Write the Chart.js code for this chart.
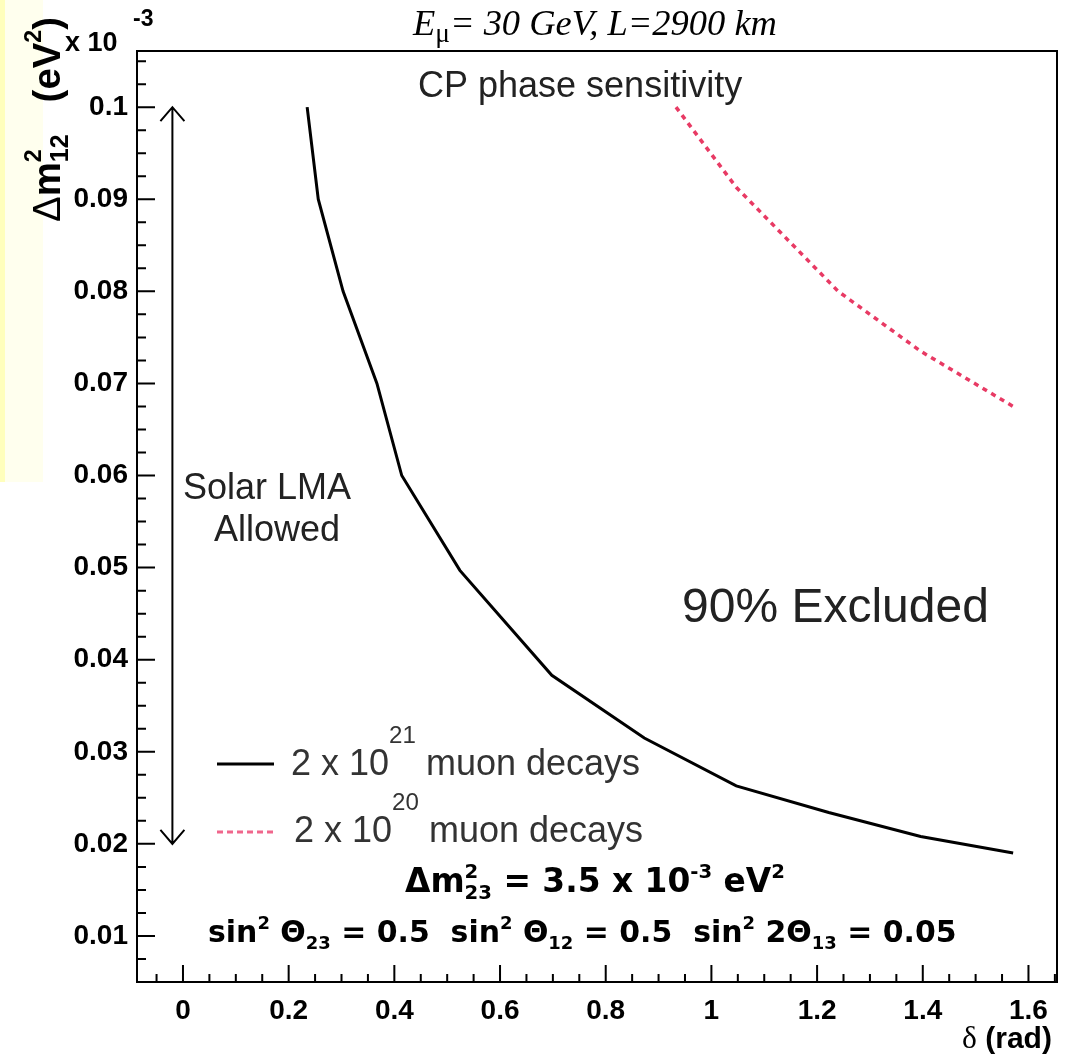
<!DOCTYPE html>
<html>
<head>
<meta charset="utf-8">
<script src="https://cdn.jsdelivr.net/npm/chart.js@4.4.0/dist/chart.umd.min.js"></script>
<style>
  body { margin: 0; background: #fff; }
</style>
</head>
<body>
<canvas id="cpChart" width="1074" height="1058"></canvas>
<script>
// delta (rad) vs dm2_12 (units of 1e-3 eV^2)
var delta21 = [0.235, 0.256, 0.303, 0.367, 0.414, 0.524, 0.698, 0.873, 1.047, 1.222, 1.396, 1.571];
var dm21    = [0.1, 0.09, 0.08, 0.07, 0.06, 0.0497, 0.0383, 0.0315, 0.0263, 0.0234, 0.0208, 0.0190];
var delta20 = [0.933, 1.047, 1.240, 1.396, 1.571];
var dm20    = [0.1, 0.0913, 0.0800, 0.0735, 0.0675];

var xTicks  = [0, 0.2, 0.4, 0.6, 0.8, 1, 1.2, 1.4, 1.6];
var xLabels = ["0", "0.2", "0.4", "0.6", "0.8", "1", "1.2", "1.4", "1.6"];
var yTicks  = [0.01, 0.02, 0.03, 0.04, 0.05, 0.06, 0.07, 0.08, 0.09, 0.1];
var yLabels = ["0.01", "0.02", "0.03", "0.04", "0.05", "0.06", "0.07", "0.08", "0.09", "0.1"];

// solar LMA allowed band (arrow), at delta = -0.02
var lmaX = -0.02;
var lmaRange = [0.02, 0.1];

var RED = "#e83a64";
var SANS = '"Liberation Sans", Arial, sans-serif';
var SERIF = '"Liberation Serif", "Times New Roman", serif';
var ROUND = '"DejaVu Sans", sans-serif';

function pairs(xs, ys) {
  return xs.map(function(x, i) { return {x: x, y: ys[i]}; });
}

// rich text: parts {t, s, st, fam, dy, over}
function layout(ctx, parts, size) {
  var cx = 0, prevX = 0, prevW = 0;
  parts.forEach(function(p) {
    ctx.font = (p.st || "") + " " + (p.s * size) + "px " + p.fam;
    var w = ctx.measureText(p.t).width;
    if (p.over) { p.x = prevX; cx = prevX + Math.max(prevW, w); }
    else { p.x = cx; prevX = cx; prevW = w; cx += w; }
  });
  return cx;
}
function drawRich(ctx, parts, x, y, size, color, fitWidth) {
  if (fitWidth) size = size * fitWidth / layout(ctx, parts, size);
  layout(ctx, parts, size);
  ctx.fillStyle = color;
  ctx.textAlign = "left";
  ctx.textBaseline = "alphabetic";
  parts.forEach(function(p) {
    ctx.font = (p.st || "") + " " + (p.s * size) + "px " + p.fam;
    ctx.fillText(p.t, x + p.x, y + (p.dy || 0) * size);
  });
}

var decor = {
  id: "decor",
  beforeDraw: function(chart) {
    var ctx = chart.ctx;
    ctx.save();
    ctx.fillStyle = "#ffffee";
    ctx.fillRect(0, 0, 43, 482);
    ctx.fillStyle = "#ffffbc";
    ctx.fillRect(0, 0, 5, 482);
    ctx.restore();
  },
  afterDraw: function(chart) {
    var ctx = chart.ctx, a = chart.chartArea;
    var xs = chart.scales.x, ys = chart.scales.y;
    ctx.save();

    // frame
    ctx.strokeStyle = "#000";
    ctx.lineWidth = 2;
    ctx.strokeRect(a.left, a.top, a.right - a.left, a.bottom - a.top);

    // inward ticks
    ctx.beginPath();
    var v, p, i;
    for (i = -2; i * 0.05 <= xs.max + 1e-9; i++) {
      v = i * 0.05;
      if (v < xs.min) continue;
      p = xs.getPixelForValue(v);
      ctx.moveTo(p, a.bottom);
      ctx.lineTo(p, a.bottom - (i % 4 === 0 ? 17 : 8));
    }
    for (i = 2; i * 0.0025 <= ys.max + 1e-9; i++) {
      v = i * 0.0025;
      p = ys.getPixelForValue(v);
      ctx.moveTo(a.left, p);
      ctx.lineTo(a.left + (i % 4 === 0 ? 18 : 9), p);
    }
    ctx.stroke();

    // LMA arrow
    var ax = xs.getPixelForValue(lmaX);
    var y1 = ys.getPixelForValue(lmaRange[1]);
    var y0 = ys.getPixelForValue(lmaRange[0]);
    ctx.lineWidth = 2;
    ctx.beginPath();
    ctx.moveTo(ax, y1); ctx.lineTo(ax, y0);
    ctx.moveTo(ax - 12, y1 + 14); ctx.lineTo(ax, y1); ctx.lineTo(ax + 12, y1 + 14);
    ctx.moveTo(ax - 12, y0 - 14); ctx.lineTo(ax, y0); ctx.lineTo(ax + 12, y0 - 14);
    ctx.stroke();

    // legend samples
    ctx.lineWidth = 3;
    ctx.strokeStyle = "#000";
    ctx.beginPath(); ctx.moveTo(217, 764); ctx.lineTo(274, 764); ctx.stroke();
    ctx.strokeStyle = "#f0668c";
    ctx.setLineDash([6, 4]);
    ctx.beginPath(); ctx.moveTo(217, 832); ctx.lineTo(274, 832); ctx.stroke();
    ctx.setLineDash([]);

    // texts
    drawRich(ctx, [
      {t: "E", s: 1, st: "italic", fam: SERIF},
      {t: "\u03bc", s: 0.75, fam: SERIF, dy: 0.2},
      {t: "= 30 GeV, L=2900 km", s: 1, st: "italic", fam: SERIF}
    ], 413, 35, 30, "#000", 364);

    drawRich(ctx, [{t: "x 10", s: 1, st: "bold", fam: SANS}], 65, 51, 27, "#000");
    drawRich(ctx, [{t: "-3", s: 1, st: "bold", fam: SANS}], 133, 26, 23, "#000");

    drawRich(ctx, [{t: "CP phase sensitivity", s: 1, fam: SANS}], 418, 97, 36, "#222");
    drawRich(ctx, [{t: "Solar LMA", s: 1, fam: SANS}], 183, 499, 36, "#222");
    drawRich(ctx, [{t: "Allowed", s: 1, fam: SANS}], 214, 541, 36, "#222");
    drawRich(ctx, [{t: "90% Excluded", s: 1, fam: SANS}], 682, 622, 48, "#222");

    drawRich(ctx, [
      {t: "2 x 10", s: 1, fam: SANS},
      {t: "21", s: 0.67, fam: SANS, dy: -0.9},
      {t: " muon decays", s: 1, fam: SANS}
    ], 291, 775, 36, "#333");
    drawRich(ctx, [
      {t: "2 x 10", s: 1, fam: SANS},
      {t: "20", s: 0.67, fam: SANS, dy: -0.9},
      {t: " muon decays", s: 1, fam: SANS}
    ], 294, 842, 36, "#333");

    drawRich(ctx, [
      {t: "\u0394m", s: 1, st: "bold", fam: ROUND},
      {t: "2", s: 0.6, st: "bold", fam: ROUND, dy: -0.42},
      {t: "23", s: 0.6, st: "bold", fam: ROUND, dy: 0.22, over: true},
      {t: " = 3.5 x 10", s: 1, st: "bold", fam: ROUND},
      {t: "-3", s: 0.6, st: "bold", fam: ROUND, dy: -0.42},
      {t: " eV", s: 1, st: "bold", fam: ROUND},
      {t: "2", s: 0.6, st: "bold", fam: ROUND, dy: -0.42}
    ], 405, 892, 30, "#000", 380);

    drawRich(ctx, [
      {t: "sin", s: 1, st: "bold", fam: ROUND},
      {t: "2", s: 0.6, st: "bold", fam: ROUND, dy: -0.42},
      {t: " \u0398", s: 1, st: "bold", fam: ROUND},
      {t: "23", s: 0.6, st: "bold", fam: ROUND, dy: 0.22},
      {t: " = 0.5  sin", s: 1, st: "bold", fam: ROUND},
      {t: "2", s: 0.6, st: "bold", fam: ROUND, dy: -0.42},
      {t: " \u0398", s: 1, st: "bold", fam: ROUND},
      {t: "12", s: 0.6, st: "bold", fam: ROUND, dy: 0.22},
      {t: " = 0.5  sin", s: 1, st: "bold", fam: ROUND},
      {t: "2", s: 0.6, st: "bold", fam: ROUND, dy: -0.42},
      {t: " 2\u0398", s: 1, st: "bold", fam: ROUND},
      {t: "13", s: 0.6, st: "bold", fam: ROUND, dy: 0.22},
      {t: " = 0.05", s: 1, st: "bold", fam: ROUND}
    ], 208, 942, 30, "#000", 749);

    // x-axis title
    drawRich(ctx, [
      {t: "\u03b4", s: 1.05, fam: SERIF},
      {t: " (rad)", s: 1, st: "bold", fam: SANS}
    ], 962, 1048, 29, "#000", 90);

    // y-axis title, rotated
    ctx.save();
    ctx.translate(60, 222);
    ctx.rotate(-Math.PI / 2);
    drawRich(ctx, [
      {t: "\u0394", s: 1, fam: SANS},
      {t: "m", s: 1, st: "bold", fam: SANS},
      {t: "2", s: 0.6, st: "bold", fam: SANS, dy: -0.5},
      {t: "12", s: 0.65, st: "bold", fam: SANS, dy: 0.2, over: true},
      {t: "   (eV", s: 1, st: "bold", fam: SANS},
      {t: "2", s: 0.6, st: "bold", fam: SANS, dy: -0.5},
      {t: ")", s: 1, st: "bold", fam: SANS}
    ], 0, 0, 28, "#000", 205);
    ctx.restore();

    ctx.restore();
  }
};

var ctx = document.getElementById("cpChart").getContext("2d");
var cpChart = new Chart(ctx, {
  type: "line",
  data: {
    datasets: [{
      label: "2 x 10^21 muon decays",
      data: pairs(delta21, dm21),
      borderColor: "#000",
      borderWidth: 3,
      pointRadius: 0,
      tension: 0
    }, {
      label: "2 x 10^20 muon decays",
      data: pairs(delta20, dm20),
      borderColor: RED,
      borderWidth: 3.5,
      borderDash: [5, 5],
      pointRadius: 0,
      tension: 0
    }]
  },
  plugins: [decor],
  options: {
    responsive: false,
    animation: false,
    layout: { padding: { top: 51, right: 17, left: 0, bottom: 0 } },
    plugins: { legend: { display: false }, tooltip: { enabled: false } },
    scales: {
      x: {
        type: "linear",
        min: -0.087,
        max: 1.654,
        afterFit: function(s) { s.height = 76; },
        afterBuildTicks: function(s) { s.ticks = xTicks.map(function(v) { return {value: v}; }); },
        grid: { display: false, drawTicks: false },
        border: { display: false },
        ticks: {
          autoSkip: false,
          maxRotation: 0,
          padding: 12,
          color: "#000",
          font: { family: SANS, weight: "bold", size: 28 },
          callback: function(v, i) { return xLabels[i]; }
        }
      },
      y: {
        type: "linear",
        min: 0.005,
        max: 0.1061,
        afterFit: function(s) { s.width = 137; },
        afterBuildTicks: function(s) { s.ticks = yTicks.map(function(v) { return {value: v}; }); },
        grid: { display: false, drawTicks: false },
        border: { display: false },
        ticks: {
          autoSkip: false,
          padding: 9,
          color: "#000",
          font: { family: SANS, weight: "bold", size: 28 },
          callback: function(v, i) { return yLabels[i]; }
        }
      }
    }
  }
});
</script>
</body>
</html>
